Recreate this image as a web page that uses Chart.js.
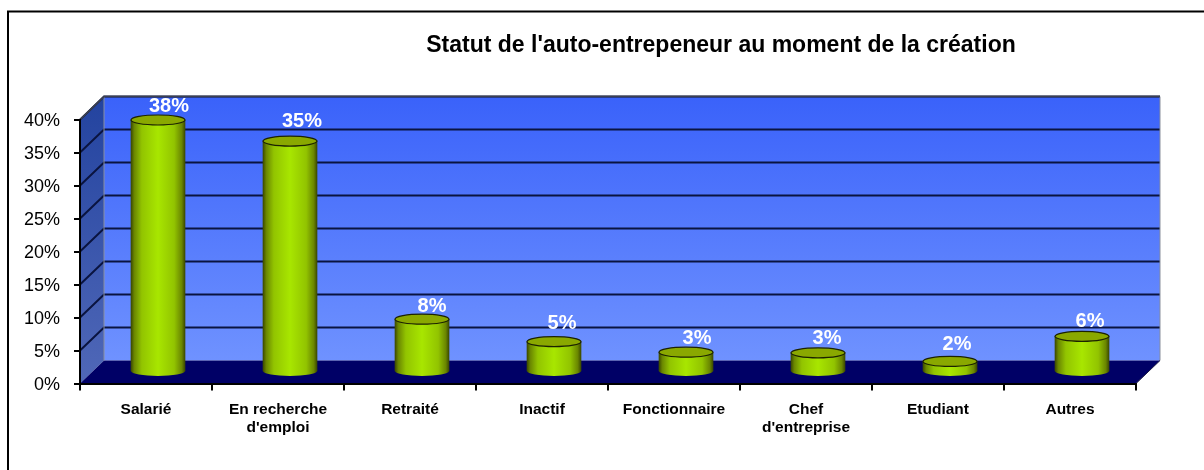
<!DOCTYPE html>
<html lang="fr"><head><meta charset="utf-8">
<style>html,body{margin:0;padding:0;background:#fff}#wrap{position:relative;width:1204px;height:470px}canvas{display:block}</style>
<script src="https://cdn.jsdelivr.net/npm/chart.js@4"></script></head>
<body><div id="wrap"><canvas id="c" width="1204" height="470"></canvas></div>
<script>
const categories = ["Salarié", ["En recherche","d'emploi"], "Retraité", "Inactif", "Fonctionnaire", ["Chef","d'entreprise"], "Etudiant", "Autres"];
const shares = [38.2, 35, 8, 4.6, 3, 2.9, 1.6, 5.4];
const valueLabels = ["38%", "35%", "8%", "5%", "3%", "3%", "2%", "6%"];
const chartTitle = "Statut de l'auto-entrepeneur au moment de la création";

// 3D look of the plot: depth of the box, centre of the cylinders in that depth
const DX = 24, DY = 23, MX = 12, MY = 11.5, RY = 5;
// the data labels of the reference are placed by hand
const labelShiftX = [11, 12, 10, 8, 11, 9, 7, 8];
const labelShiftY = [-13, -20, -13, -18, -14, -14, -17, -15];

function barGradient(c, cx, w) {
  const g = c.createLinearGradient(cx - w/2, 0, cx + w/2, 0);
  g.addColorStop(0, '#3c4a00'); g.addColorStop(0.06, '#6a8600'); g.addColorStop(0.2, '#92c400');
  g.addColorStop(0.5, '#a8e600'); g.addColorStop(0.8, '#92c400'); g.addColorStop(0.94, '#6a8600'); g.addColorStop(1, '#3c4a00');
  return g;
}
const box3d = {
  id: 'box3d',
  beforeDraw(chart) {
    const c = chart.ctx, a = chart.chartArea, y = chart.scales.y;
    if (chart.titleBlock) { chart.titleBlock.left = 119; chart.titleBlock.right = 1323; }
    c.save();
    // frame
    c.strokeStyle = '#000'; c.lineWidth = 2;
    c.beginPath(); c.moveTo(8, 470); c.lineTo(8, 11.5); c.lineTo(1204, 11.5); c.stroke();
    const L = a.left, R = a.right, T = a.top, B = a.bottom;
    // back wall
    let g = c.createLinearGradient(0, T - DY, 0, B - DY);
    g.addColorStop(0, '#3a62fa'); g.addColorStop(1, '#6f92ff');
    c.fillStyle = g; c.fillRect(L + DX, T - DY, R - L, B - T);
    // side wall
    g = c.createLinearGradient(0, T - DY, 0, B);
    g.addColorStop(0, '#23439f'); g.addColorStop(1, '#5068b8');
    c.fillStyle = g; c.beginPath();
    c.moveTo(L, T); c.lineTo(L + DX, T - DY); c.lineTo(L + DX, B - DY); c.lineTo(L, B); c.closePath(); c.fill();
    // floor
    c.fillStyle = '#000066'; c.beginPath();
    c.moveTo(L, B); c.lineTo(R, B); c.lineTo(R + DX, B - DY); c.lineTo(L + DX, B - DY); c.closePath(); c.fill();
    // grid from the value scale
    c.strokeStyle = '#0a1440'; c.lineWidth = 2;
    y.ticks.forEach(t => {
      if (t.value === 0) return;
      const p = y.getPixelForValue(t.value);
      c.beginPath(); c.moveTo(L, p); c.lineTo(L + DX, p - DY); c.lineTo(R + DX, p - DY); c.stroke();
    });
    c.strokeStyle = '#8a8f9c'; c.lineWidth = 1;
    c.beginPath(); c.moveTo(R + DX, T - DY); c.lineTo(R + DX, B - DY); c.stroke();
    c.beginPath(); c.moveTo(L + DX, T - DY); c.lineTo(L + DX, B - DY); c.stroke();
    c.strokeStyle = '#3c4150'; c.lineWidth = 1.5;
    c.beginPath(); c.moveTo(L, T); c.lineTo(L + DX, T - DY); c.lineTo(R + DX, T - DY); c.stroke();
    c.strokeStyle = '#1a1a40'; c.lineWidth = 1;
    c.beginPath(); c.moveTo(R, B); c.lineTo(R + DX, B - DY); c.stroke();
    c.restore();
  },
  beforeDatasetsDraw(chart) {
    const c = chart.ctx;
    c.save();
    c.translate(MX, -MY);
    chart.getDatasetMeta(0).data.forEach(b => {
      const w = b.width;
      c.fillStyle = barGradient(c, b.x, w);
      c.beginPath(); c.ellipse(b.x, b.base, w/2, RY, 0, 0, Math.PI*2); c.fill();
    });
  },
  afterDatasetsDraw(chart) {
    const c = chart.ctx;
    chart.getDatasetMeta(0).data.forEach(b => {
      const w = b.width;
      c.beginPath(); c.ellipse(b.x, b.y, w/2, RY, 0, 0, Math.PI*2);
      c.fillStyle = '#8aa800'; c.fill();
      c.strokeStyle = '#1c2200'; c.lineWidth = 1.2; c.stroke();
    });
    c.restore();
    c.save();
    c.font = 'bold 20px "Liberation Sans", Arial, sans-serif';
    c.fillStyle = '#fff'; c.textAlign = 'center'; c.textBaseline = 'middle';
    chart.getDatasetMeta(0).data.forEach((b, i) => {
      c.fillText(valueLabels[i], b.x + MX + labelShiftX[i], b.y - MY + labelShiftY[i]);
    });
    c.restore();
  }
};
new Chart(document.getElementById('c'), {
  type: 'bar',
  data: { labels: categories, datasets: [{
    data: shares, barThickness: 54, clip: false, borderWidth: 0,
    backgroundColor(ctx) {
      const x = ctx.chart.scales.x;
      const px = (x && ctx.dataIndex !== undefined) ? x.getPixelForValue(ctx.dataIndex) : NaN;
      if (!Number.isFinite(px)) return '#a8e600';
      return barGradient(ctx.chart.ctx, px, 54);
    }
  }]},
  options: {
    responsive: false, animation: false,
    layout: { padding: { top: 0.3, right: 68, left: 0, bottom: 0 } },
    plugins: {
      legend: { display: false }, tooltip: { enabled: false },
      title: { display: true, text: chartTitle, color: '#000',
        font: { family: '"Liberation Sans", Arial, sans-serif', size: 23, weight: 'bold', lineHeight: 1.1 },
        padding: { top: 33, bottom: 61 } }
    },
    scales: {
      x: {
        afterFit(s) { s.height = 86.5; },
        border: { color: '#000', width: 2 },
        grid: { drawOnChartArea: false, drawTicks: true, tickLength: 7, color: '#000', lineWidth: 2 },
        ticks: { color: '#000', maxRotation: 0, autoSkip: false, padding: 10,
          font: { family: '"Liberation Sans", Arial, sans-serif', size: 15.5, weight: 'bold', lineHeight: 1.17 } }
      },
      y: {
        min: 0, max: 40,
        afterFit(s) { s.width = 80; },
        border: { color: '#000', width: 2 },
        grid: { drawOnChartArea: false, drawTicks: true, tickLength: 6, color: '#000', lineWidth: 2 },
        ticks: { stepSize: 5, color: '#000', padding: 14, labelOffset: 1.5, callback: v => v + '%',
          font: { family: '"Liberation Sans", Arial, sans-serif', size: 18 } }
      }
    }
  },
  plugins: [box3d]
});
</script></body></html>
